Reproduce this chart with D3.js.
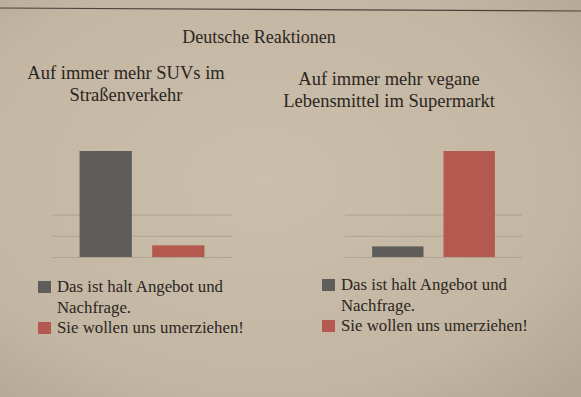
<!DOCTYPE html>
<html>
<head>
<meta charset="utf-8">
<script src="https://cdn.jsdelivr.net/npm/d3@7"></script>
<style>
  html, body { margin: 0; padding: 0; }
  body { width: 581px; height: 397px; overflow: hidden; background: #c6b9a5; }
  svg text { font-family: "Liberation Serif", "DejaVu Serif", serif; fill: #2b2622; }
</style>
</head>
<body>
<svg id="chart" width="581" height="397"></svg>
<script>
// chart data
const chartTitle = "Deutsche Reaktionen";
const panelTitles = [
  ["Auf immer mehr SUVs im", "Straßenverkehr"],
  ["Auf immer mehr vegane", "Lebensmittel im Supermarkt"]
];
const answers = ["Angebot", "Umerziehen"];
const legendLines = [
  ["Das ist halt Angebot und", "Nachfrage."],
  ["Sie wollen uns umerziehen!"]
];
const suvValues = [100, 11];
const veganValues = [10, 100];
const gridTicks = [0, 20, 40];
const colors = ["#5e5d59", "#b3594f"];

const svg = d3.select("#chart");

// paper background, a bit darker toward the edges like the photo
const defs = svg.append("defs");
const grad = defs.append("radialGradient").attr("id", "paper")
  .attr("cx", "45%").attr("cy", "45%").attr("r", "75%");
grad.append("stop").attr("offset", "0%").attr("stop-color", "#cbbfab");
grad.append("stop").attr("offset", "70%").attr("stop-color", "#c3b6a2");
grad.append("stop").attr("offset", "100%").attr("stop-color", "#b3a692");
svg.append("rect").attr("width", 581).attr("height", 397).attr("fill", "url(#paper)");

// rule at the top of the page
svg.append("line")
  .attr("x1", 0).attr("x2", 581).attr("y1", 8).attr("y2", 11)
  .attr("stroke", "#4a443d").attr("stroke-width", 1.2);

svg.append("text")
  .attr("x", 259).attr("y", 43)
  .attr("text-anchor", "middle")
  .attr("font-size", 18)
  .text(chartTitle);

const y = d3.scaleLinear().domain([0, 100]).range([257, 151]);

const panels = [
  { values: suvValues, title: panelTitles[0], range: [52, 232], titleX: 126, titleY: 79, legendX: 38, legendY: 292 },
  { values: veganValues, title: panelTitles[1], range: [345, 522], titleX: 389, titleY: 85, legendX: 322, legendY: 290 }
];

panels.forEach((p) => {
  const g = svg.append("g");

  // panel title
  g.append("text")
    .attr("x", p.titleX).attr("y", p.titleY)
    .attr("text-anchor", "middle")
    .attr("font-size", 18.5)
    .selectAll("tspan")
    .data(p.title)
    .enter()
    .append("tspan")
    .attr("x", p.titleX)
    .attr("dy", (d, i) => (i === 0 ? 0 : 22))
    .text((d) => d);

  const x = d3.scaleBand()
    .domain(answers)
    .range(p.range)
    .paddingInner(0.28)
    .paddingOuter(0.38);

  // faint gridlines
  const grid = g.append("g")
    .attr("transform", `translate(${p.range[0]},0)`)
    .call(d3.axisLeft(y).tickValues(gridTicks).tickSize(-(p.range[1] - p.range[0])).tickFormat(""));
  grid.select(".domain").remove();
  grid.selectAll(".tick line").attr("stroke", "#a89d8c").attr("stroke-width", 0.8);

  // bars
  g.selectAll("rect.bar")
    .data(p.values)
    .enter()
    .append("rect")
    .attr("class", "bar")
    .attr("x", (d, i) => x(answers[i]))
    .attr("width", x.bandwidth())
    .attr("y", (d) => y(d))
    .attr("height", (d) => y(0) - y(d))
    .attr("fill", (d, i) => colors[i]);

  // legend
  let lineNo = 0;
  legendLines.forEach((lines, i) => {
    const base = p.legendY + lineNo * 20.5;
    g.append("rect")
      .attr("x", p.legendX).attr("y", base - 11)
      .attr("width", 13).attr("height", 12)
      .attr("fill", colors[i]);
    lines.forEach((t, j) => {
      g.append("text")
        .attr("x", p.legendX + 19)
        .attr("y", base + j * 20.5)
        .attr("font-size", 16.8)
        .text(t);
    });
    lineNo += lines.length;
  });
});
</script>
</body>
</html>
